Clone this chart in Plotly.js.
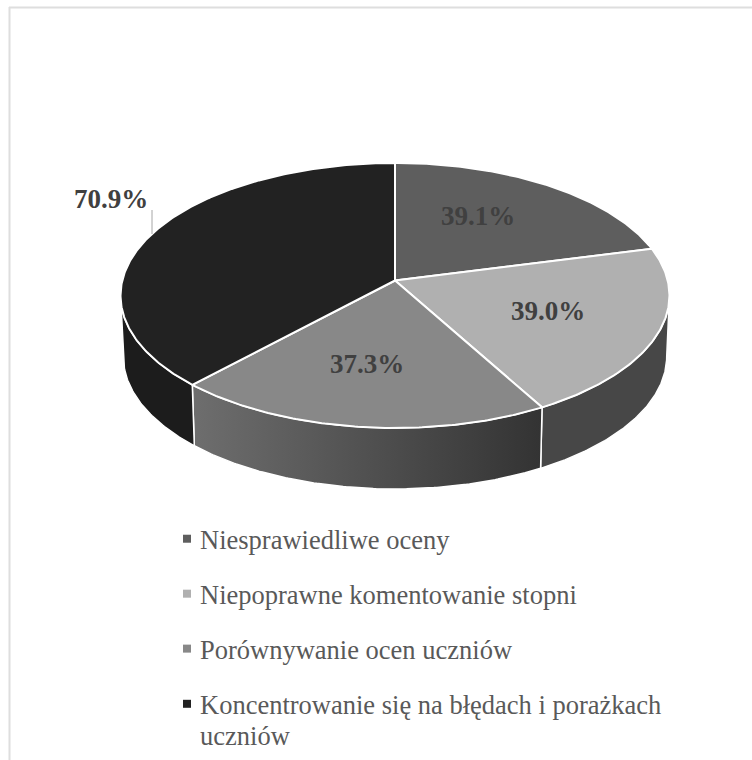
<!DOCTYPE html>
<html>
<head>
<meta charset="utf-8">
<script src="https://cdn.plot.ly/plotly-3.0.1.min.js"></script>
<style>html,body{margin:0;padding:0;background:#fff}#chart{width:752px;height:760px}</style>
</head>
<body>
<div id="chart"></div>
<script>
const categories = ['Niesprawiedliwe oceny', 'Niepoprawne komentowanie stopni', 'Porównywanie ocen uczniów', 'Koncentrowanie się na błędach i porażkach<br>uczniów'];
const values = [39.1, 39.0, 37.3, 70.9];
const labels = ['39.1%', '39.0%', '37.3%', '70.9%'];
const topColors = ['#5e5e5e', '#b0b0b0', '#888888', '#222222'];
const wallColors = [['#474747', '#474747'], ['#474747', '#474747'], ['#6e6e6e', '#333333'], ['#1c1c1c', '#1c1c1c']];
const labelPos = [[478, 216], [548, 311], [367, 364], [111, 199]];

// Projection of the tilted disc onto the page
const CX = 395, CY = 295.5, RX = 272.7, RY = 132.5, K = 0.113, DEPTH = 61, SHRINK = 0.99;
function rim(theta) {
  const u = Math.sin(theta), v = -Math.cos(theta), w = 1 - K * v;
  return [RX * u / w, (RY * v - 15) / w];
}
const total = values.reduce((a, b) => a + b, 0);
const traces = [];
const thetaVisible = Math.acos(-K);
let start = 0;
const spans = values.map(v => { const s = start; start += v / total * 2 * Math.PI; return [s, start]; });

function arc(a, b) {
  const n = Math.max(2, Math.ceil(Math.abs(b - a) / 0.01));
  const pts = [];
  for (let i = 0; i <= n; i++) pts.push(rim(a + (b - a) * i / n));
  return pts;
}

// side walls
spans.forEach((sp, i) => {
  const a = Math.max(sp[0], thetaVisible), b = Math.min(sp[1], 2 * Math.PI - thetaVisible);
  if (b <= a) return;
  const p = arc(a, b);
  const xs = p.map(q => CX + q[0]).concat(p.slice().reverse().map(q => CX + q[0] * SHRINK));
  const ys = p.map(q => CY + q[1]).concat(p.slice().reverse().map(q => CY + q[1] + DEPTH));
  xs.push(xs[0]); ys.push(ys[0]);
  traces.push({
    type: 'scatter', mode: 'lines', x: xs, y: ys, fill: 'toself',
    fillgradient: {type: 'horizontal', colorscale: [[0, wallColors[i][0]], [1, wallColors[i][1]]]},
    line: {color: '#ffffff', width: 1.5}, showlegend: false, hoverinfo: 'skip'
  });
});
// top slices
spans.forEach((sp, i) => {
  const p = arc(sp[0], sp[1]);
  const hx = CX, hy = CY - 15;
  const xs = [hx].concat(p.map(q => CX + q[0]), [hx]);
  const ys = [hy].concat(p.map(q => CY + q[1]), [hy]);
  traces.push({
    type: 'scatter', mode: 'lines', x: xs, y: ys, fill: 'toself', fillcolor: topColors[i],
    line: {color: '#ffffff', width: 2}, showlegend: false, name: categories[i], hoverinfo: 'name'
  });
});
// legend entries
categories.forEach((c, i) => {
  traces.push({
    type: 'scatter', mode: 'markers', x: [null], y: [null], name: c, legendgroup: 'g' + i,
    marker: {symbol: 'square', size: 8, color: topColors[i]}
  });
});

const font = 'Liberation Serif, Times New Roman, serif';
const layout = {
  width: 752, height: 760, margin: {l: 0, r: 0, t: 0, b: 0, autoexpand: false},
  paper_bgcolor: '#ffffff', plot_bgcolor: '#ffffff',
  xaxis: {range: [0, 752], visible: false, fixedrange: true},
  yaxis: {range: [760, 0], visible: false, fixedrange: true},
  showlegend: true,
  legend: {
    x: 160 / 752, xanchor: 'left', y: 1 - 515 / 760, yanchor: 'top',
    font: {family: font, size: 26.5, color: '#595959'},
    tracegroupgap: 17.5, itemclick: false, itemdoubleclick: false, bgcolor: 'rgba(0,0,0,0)'
  },
  annotations: labels.map((t, i) => ({
    text: '<b>' + t + '</b>', x: labelPos[i][0], y: labelPos[i][1], xref: 'x', yref: 'y',
    showarrow: false, xanchor: 'center', yanchor: 'middle',
    font: {family: font, size: 27, color: '#404040'}
  })),
  shapes: [
    {type: 'line', xref: 'paper', yref: 'paper', x0: 9 / 752, x1: 1, y0: 1 - 7.5 / 760, y1: 1 - 7.5 / 760, line: {color: '#dedede', width: 2}},
    {type: 'line', xref: 'paper', yref: 'paper', x0: 9.5 / 752, x1: 9.5 / 752, y0: 0, y1: 1 - 7 / 760, line: {color: '#dedede', width: 2}},
    {type: 'line', xref: 'x', yref: 'y', x0: 152, x1: 152, y0: 210, y1: 234, line: {color: '#a6a6a6', width: 1}}
  ]
};
Plotly.newPlot('chart', traces, layout, {displayModeBar: false, staticPlot: true}).then(() => {
  const syms = document.querySelectorAll('#chart .legend .legendsymbols');
  syms.forEach((n, i) => n.setAttribute('transform', i === syms.length - 1 ? 'translate(7,-17)' : 'translate(7,0)'));
  const texts = document.querySelectorAll('#chart .legend .legendtext');
  const last = texts[texts.length - 1];
  const lines = last ? last.querySelectorAll('tspan.line') : [];
  if (lines.length > 1) {
    lines[1].setAttribute('y', parseFloat(lines[1].getAttribute('y')) - 3);
  }
});
</script>
</body>
</html>
